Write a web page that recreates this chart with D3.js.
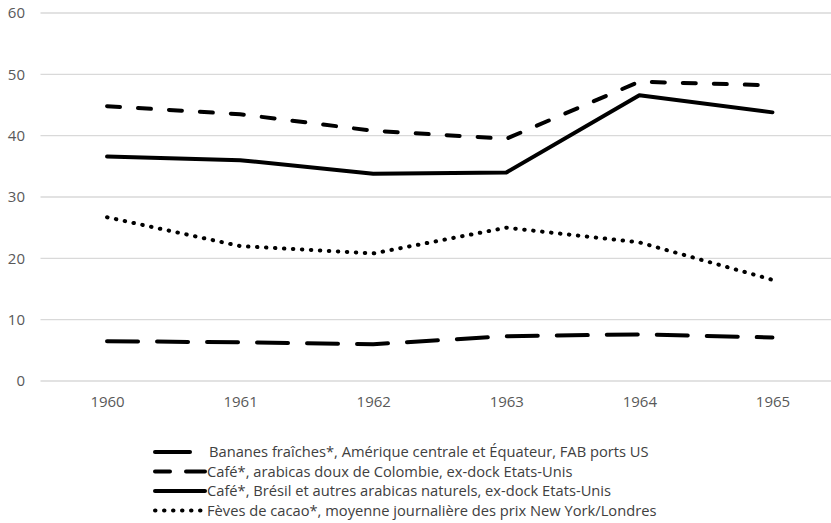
<!DOCTYPE html>
<html><head><meta charset="utf-8">
<script src="https://cdn.jsdelivr.net/npm/d3@7"></script>
<style>
html,body{margin:0;padding:0;background:#fff;}
svg{display:block;font-family:"Open Sans", "Liberation Sans", sans-serif;}
</style></head>
<body><svg id="c" width="831" height="523"></svg>
<script>
const years = ["1960","1961","1962","1963","1964","1965"];
const yTicks = [0,10,20,30,40,50,60];
const bananes = [6.5, 6.3, 6.0, 7.3, 7.6, 7.1];
const colombie = [44.8, 43.5, 40.8, 39.5, 48.8, 48.2];
const bresil = [36.6, 36.0, 33.8, 34.0, 46.6, 43.8];
const cacao = [26.7, 22.0, 20.8, 25.0, 22.6, 16.5];
const seriesNames = [
  "Bananes fraîches*, Amérique centrale et Équateur, FAB ports US",
  "Café*, arabicas doux de Colombie, ex-dock Etats-Unis",
  "Café*, Brésil et autres arabicas naturels, ex-dock Etats-Unis",
  "Fèves de cacao*, moyenne journalière des prix New York/Londres"
];
const seriesValues = [bananes, colombie, bresil, cacao];
const dashes = ["31,19", "13,18", null, "0.5,8.5"];

(function(){
const svg = d3.select("#c");
const pL = 40.5, pR = 839, pT = 13, pB = 381;
const x = d3.scalePoint().domain(years).range([pL, pR]).padding(0.5);
const y = d3.scaleLinear().domain([0,60]).range([pB, pT]);
const ff = "'Open Sans', 'Liberation Sans', sans-serif";

svg.append("g").selectAll("line").data(yTicks).join("line")
  .attr("x1", pL).attr("x2", pR)
  .attr("y1", d => y(d)).attr("y2", d => y(d))
  .attr("stroke", "#d9d9d9").attr("stroke-width", 1.3);

const yAxis = d3.axisLeft(y).tickValues(yTicks).tickSize(0).tickPadding(0);
const gy = svg.append("g").attr("transform", "translate(25,0)").call(yAxis);
gy.select(".domain").remove();
gy.selectAll("text").attr("fill", "#595959").style("font-size", "15px").style("font-family", ff);

const xAxis = d3.axisBottom(x).tickSize(0).tickPadding(0);
const gx = svg.append("g").attr("transform", "translate(0,396)").call(xAxis);
gx.select(".domain").remove();
gx.selectAll("text").attr("fill", "#595959").style("font-size", "15px").style("font-family", ff);

const line = d3.line().x((d,i) => x(years[i])).y(d => y(d));
seriesValues.forEach((vals, k) => {
  svg.append("path").datum(vals)
    .attr("d", line)
    .attr("fill", "none").attr("stroke", "#000")
    .attr("stroke-width", 4)
    .attr("stroke-linecap", "round").attr("stroke-linejoin", "round")
    .attr("stroke-dasharray", dashes[k]);
});

const legY = [452, 471.5, 491, 510.5];
const samples = [
  [[155,190]],
  [[155,170],[186,205]],
  [[155,205]],
  [[155,205]]
];
const leg = svg.append("g");
seriesNames.forEach((name, k) => {
  const g = leg.append("g");
  samples[k].forEach(s => {
    g.append("line").attr("x1", s[0]).attr("x2", s[1])
      .attr("y1", legY[k]).attr("y2", legY[k])
      .attr("stroke", "#000").attr("stroke-width", 4)
      .attr("stroke-linecap", "round")
      .attr("stroke-dasharray", k === 3 ? "0.5,8.5" : null);
  });
  g.append("text").attr("x", k === 0 ? 209 : 207).attr("y", legY[k])
    .attr("dy", "0.35em").attr("fill", "#404040")
    .style("font-size", "14.7px").text(name);
});
})();
</script>
</body></html>
